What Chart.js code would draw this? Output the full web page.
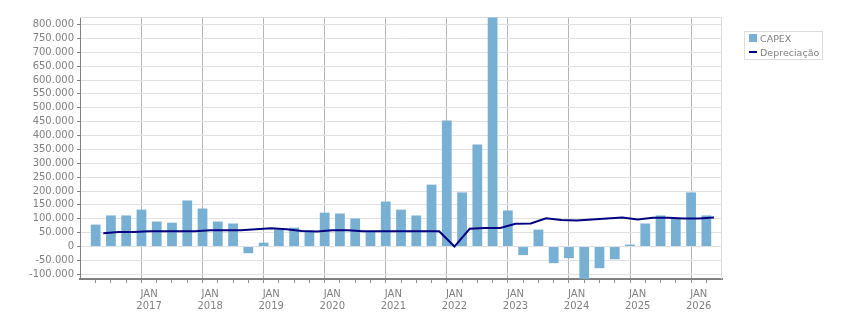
<!DOCTYPE html>
<html>
<head>
<meta charset="utf-8">
<script src="https://cdn.jsdelivr.net/npm/chart.js@4.4.0/dist/chart.umd.min.js"></script>
<style>
body { margin: 0; background: #fff; }
#wrap { position: relative; width: 851px; height: 313px; }
#legend { position: absolute; left: 744px; top: 31px; width: 77px; height: 27px; border: 1px solid #dcdcdc; font: 9.5px "DejaVu Sans"; color: #808080; }
#legend .sq { position: absolute; left: 4px; top: 2px; width: 8px; height: 8px; background: #78b0d4; }
#legend .ln { position: absolute; left: 4px; top: 19px; width: 8px; height: 2px; background: #000080; }
#legend .t1 { position: absolute; left: 15px; top: 0px; line-height: 13px; }
#legend .t2 { position: absolute; left: 15px; top: 14px; line-height: 13px; }
</style>
</head>
<body>
<div id="wrap">
  <canvas id="chart" width="851" height="313"></canvas>
  <div id="legend">
    <div class="sq"></div><span class="t1">CAPEX</span>
    <div class="ln"></div><span class="t2">Depreciação</span>
  </div>
</div>
<script>
// trimestres (barras no meio do trimestre, depreciação no fim)
var quarters = [
  '2016-1','2016-2','2016-3','2016-4',
  '2017-1','2017-2','2017-3','2017-4',
  '2018-1','2018-2','2018-3','2018-4',
  '2019-1','2019-2','2019-3','2019-4',
  '2020-1','2020-2','2020-3','2020-4',
  '2021-1','2021-2','2021-3','2021-4',
  '2022-1','2022-2','2022-3','2022-4',
  '2023-1','2023-2','2023-3','2023-4',
  '2024-1','2024-2','2024-3','2024-4',
  '2025-1','2025-2','2025-3','2025-4',
  '2026-1'
];
var capex = [
  79000, 112000, 112000, 133000,
  90000, 86000, 166000, 137000,
  90000, 83000, -24000, 14000,
  62000, 68000, 55000, 122000,
  119000, 101000, 55000, 162000,
  133000, 112000, 223000, 454000,
  195000, 368000, 825000, 130000,
  -31000, 61000, -60000, -42000,
  -125000, -78000, -46000, 7000,
  83000, 112000, 101000, 195000,
  112000
];
var depreciacao = [
  48000, 52000, 52000, 55000,
  55000, 55000, 55000, 59000,
  59000, 59000, 62000, 66000,
  62000, 56000, 54000, 59000,
  59000, 55000, 55000, 55000,
  55000, 55000, 55000, 0,
  64000, 67000, 67000, 82000,
  83000, 102000, 96000, 94000,
  97000, 101000, 105000, 97000,
  104000, 104000, 101000, 101000,
  105000
];
var yMin = -117000, yMax = 827000, yStep = 50000;
var xMin = 2016, xMax = 2026.25;

function qStart(q) {
  var p = q.split('-');
  return Number(p[0]) + (Number(p[1]) - 1) / 4;
}

var barPts = quarters.map(function(q, i) { return {x: qStart(q) + 0.125, y: capex[i]}; });
var linePts = quarters.map(function(q, i) { return {x: qStart(q) + 0.25, y: depreciacao[i]}; });

function fmt(v) {
  var s = String(Math.abs(Math.round(v))).replace(/\B(?=(\d{3})+(?!\d))/g, '.');
  return (v < 0 ? '-' : '') + s;
}

function isYear(c) {
  return c.tick && Number.isInteger(c.tick.value);
}

var frame = {
  id: 'frame',
  beforeDatasetsDraw: function(chart) {
    var a = chart.chartArea, ctx = chart.ctx;
    ctx.save();
    ctx.strokeStyle = '#dcdcdc';
    ctx.lineWidth = 1;
    ctx.beginPath();
    ctx.moveTo(a.left, a.top + 0.5);
    ctx.lineTo(a.right - 0.5, a.top + 0.5);
    ctx.lineTo(a.right - 0.5, a.bottom);
    ctx.stroke();
    ctx.restore();
  }
};

Chart.defaults.font.family = 'DejaVu Sans';
Chart.defaults.font.size = 10;
Chart.defaults.color = '#808080';

new Chart(document.getElementById('chart'), {
  type: 'bar',
  data: {
    datasets: [{
      type: 'line',
      label: 'Depreciação',
      data: linePts,
      borderColor: '#000080',
      borderWidth: 2,
      pointRadius: 0,
      tension: 0,
      order: 1
    }, {
      type: 'bar',
      label: 'CAPEX',
      data: barPts,
      backgroundColor: '#78b0d4',
      categoryPercentage: 1,
      barPercentage: 0.64,
      order: 2
    }]
  },
  options: {
    responsive: false,
    animation: false,
    layout: { padding: { left: 0, top: 17, right: 129, bottom: 0 } },
    plugins: { legend: { display: false }, tooltip: { enabled: false } },
    scales: {
      x: {
        type: 'linear',
        min: xMin,
        max: xMax,
        afterFit: function(s) { s.height = 34; },
        afterBuildTicks: function(s) {
          var t = [];
          for (var v = xMin + 0.25; v < xMax; v += 0.25) t.push({value: v});
          s.ticks = t;
        },
        border: { color: '#808080', width: 2 },
        grid: {
          color: function(c) { return isYear(c) ? '#b4b4b4' : 'rgba(0,0,0,0)'; },
          tickColor: '#909090',
          tickLength: 4
        },
        ticks: {
          autoSkip: false,
          maxRotation: 0,
          padding: 5,
          font: { lineHeight: 1.25 },
          callback: function(v) { return Number.isInteger(v) ? ['JAN', String(v)] : ''; }
        }
      },
      y: {
        min: yMin,
        max: yMax,
        afterFit: function(s) { s.width = 80; },
        afterBuildTicks: function(s) {
          var t = [];
          for (var v = Math.ceil(yMin / yStep) * yStep; v <= yMax; v += yStep) t.push({value: v});
          s.ticks = t;
        },
        border: { color: '#808080', width: 1 },
        grid: { color: '#e0e0e0', tickColor: '#808080', tickLength: 3 },
        ticks: {
          autoSkip: false,
          padding: 3,
          callback: function(v) { return fmt(v); }
        }
      }
    }
  },
  plugins: [frame]
});
</script>
</body>
</html>
